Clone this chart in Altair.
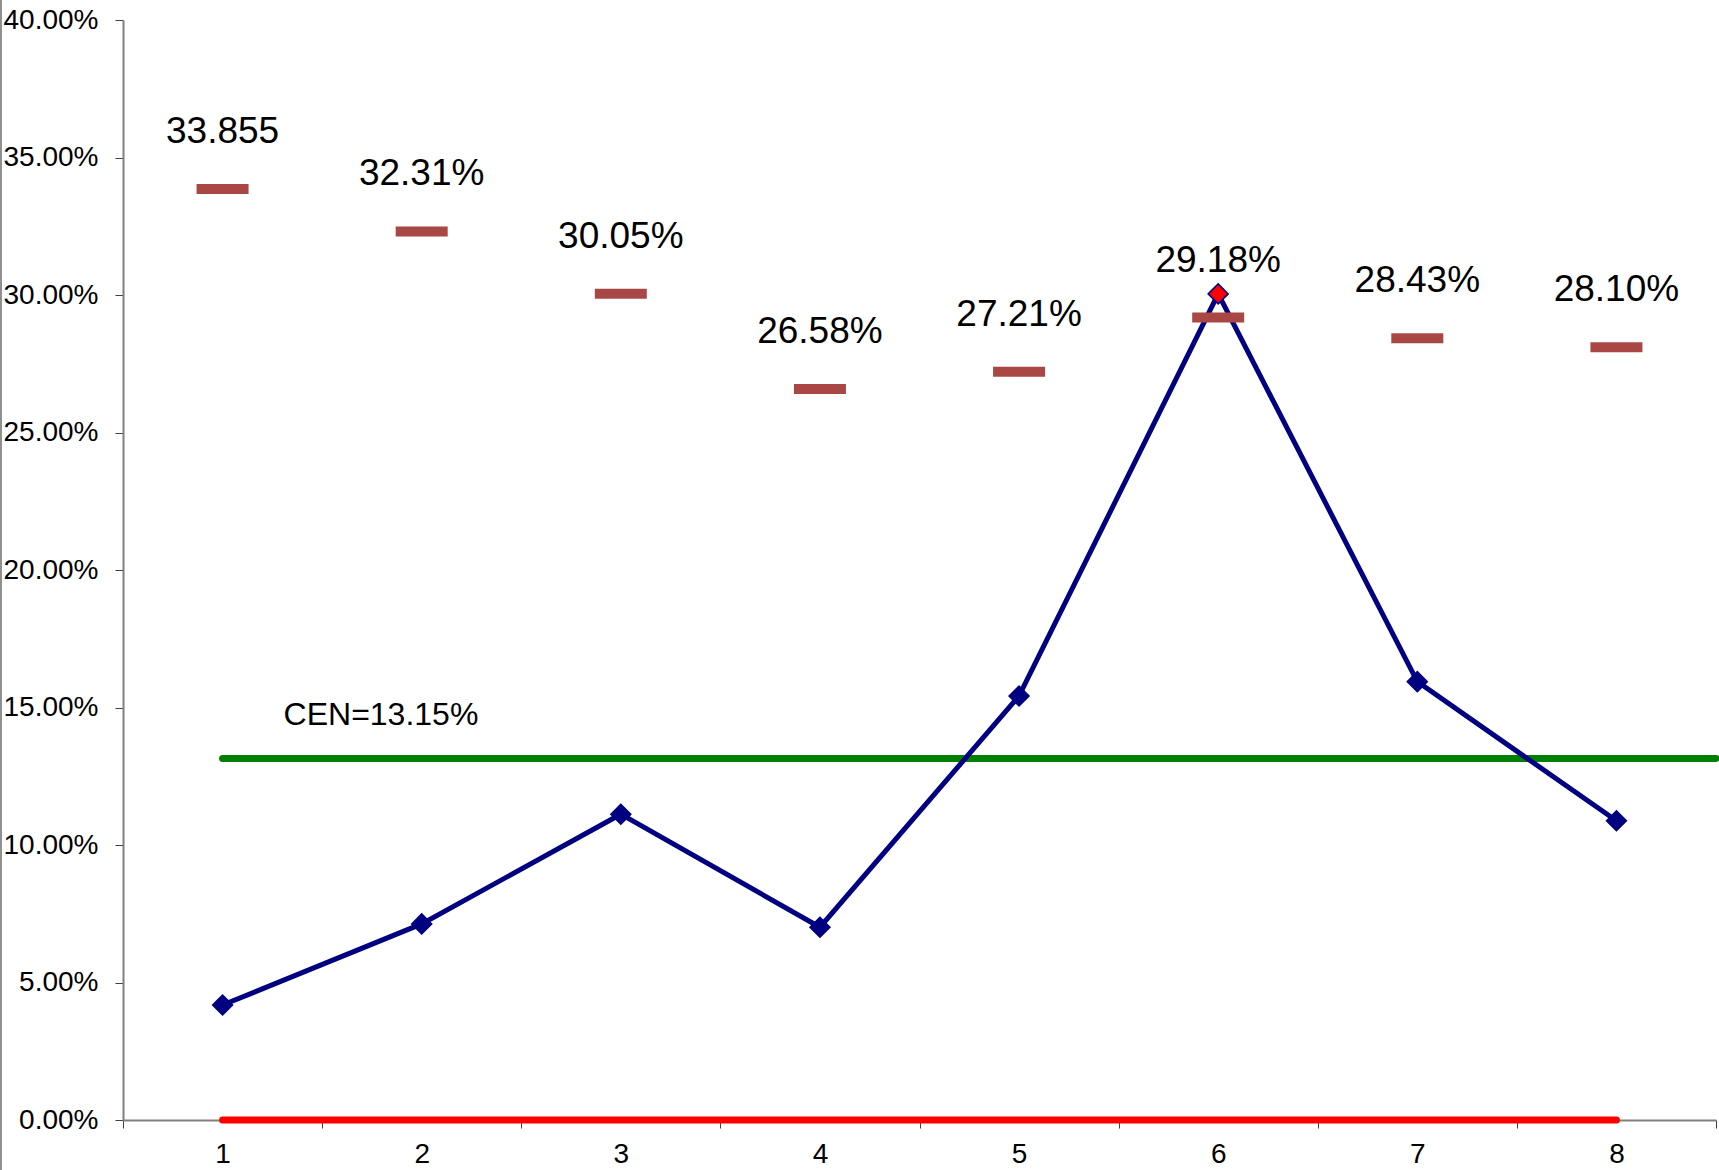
import altair as alt
import pandas as pd

# p-chart data: sample number, defect proportion, upper/lower control limits
samples = ["1", "2", "3", "4", "5", "6", "7", "8"]
p_values = [0.0418, 0.0713, 0.1112, 0.0701, 0.1542, 0.3004, 0.1594, 0.1088]
ucl_values = [0.33855, 0.3231, 0.3005, 0.2658, 0.2721, 0.2918, 0.2843, 0.2810]
ucl_labels = ["33.855", "32.31%", "30.05%", "26.58%", "27.21%", "29.18%", "28.43%", "28.10%"]
lcl_values = [0.0, 0.0, 0.0, 0.0, 0.0, 0.0, 0.0, 0.0]
center_value = 0.1315
center_label = "CEN=13.15%"
y_ticks = [0.0, 0.05, 0.10, 0.15, 0.20, 0.25, 0.30, 0.35, 0.40]

W, H = 1593, 1100
PAD_L, PAD_T, PAD_R, PAD_B = 123, 20, 3, 50
FONT = "Liberation Sans"

df = pd.DataFrame({
    "sample": samples,
    "p": p_values,
    "ucl": ucl_values,
    "ucl_label": ucl_labels,
    "lcl": lcl_values,
})
df["out"] = df["p"] > df["ucl"]

center_df = pd.DataFrame({"sample": [samples[0]], "cl": [center_value], "label": [center_label]})

x_enc = alt.X(
    "sample:O",
    bandPosition=0.5,
    scale=alt.Scale(type="band", domain=samples, paddingInner=0, paddingOuter=0),
    axis=alt.Axis(
        title=None, labelAngle=0, tickBand="extent", labelFontSize=28,
        labelFont=FONT, labelColor="black", labelPadding=12, tickSize=8,
        tickColor="#404040", domainColor="#808080", domainWidth=2,
    ),
)
y_scale = alt.Scale(domain=[0, 0.4], nice=False)
y_axis = alt.Axis(
    title=None, format=".2%", values=y_ticks, grid=False, labelFontSize=28,
    labelFont=FONT, labelColor="black", labelPadding=17, tickSize=8,
    tickColor="#404040", domainColor="#808080", domainWidth=2,
)

base = alt.Chart(df)

# outer frame edge on the left side of the chart
frame_edge = alt.Chart(center_df).mark_rule(color="#909090", strokeWidth=2).encode(
    x=alt.value(-PAD_L + 1), y=alt.value(-PAD_T), y2=alt.value(H + PAD_B)
)

lcl_line = base.mark_line(color="#FF0000", strokeWidth=7, strokeCap="round").encode(
    x=x_enc, y=alt.Y("lcl:Q", scale=y_scale, axis=y_axis)
)

center_rule = alt.Chart(center_df).mark_rule(
    color="#008000", strokeWidth=7, strokeCap="round"
).encode(x=x_enc, x2=alt.value(W), y=alt.Y("cl:Q", scale=y_scale))

center_text = alt.Chart(center_df).mark_text(
    align="left", baseline="middle", dx=61, dy=-43, fontSize=32, font=FONT, color="black"
).encode(x=x_enc, y=alt.Y("cl:Q", scale=y_scale), text="label:N")

p_line = base.mark_line(color="#000080", strokeWidth=5).encode(
    x=x_enc, y=alt.Y("p:Q", scale=y_scale)
)

ucl_ticks = base.mark_tick(color="#A94745", size=52, thickness=10, opacity=1).encode(
    x=x_enc, y=alt.Y("ucl:Q", scale=y_scale)
)

p_points = base.mark_point(
    shape="diamond", filled=True, size=400, stroke="#000080", strokeWidth=1.5, opacity=1
).encode(
    x=x_enc,
    y=alt.Y("p:Q", scale=y_scale),
    fill=alt.condition(alt.datum.out, alt.value("#FF0000"), alt.value("#000080")),
)

ucl_text = base.mark_text(
    baseline="middle", dy=-57, fontSize=37, font=FONT, color="black"
).encode(x=x_enc, y=alt.Y("ucl:Q", scale=y_scale), text="ucl_label:N")

chart = alt.layer(
    frame_edge, lcl_line, center_rule, p_line, ucl_ticks, p_points, ucl_text, center_text
).properties(
    width=W, height=H,
    padding={"left": PAD_L, "top": PAD_T, "right": PAD_R, "bottom": PAD_B},
    autosize=alt.AutoSizeParams(type="none"),
    background="white",
).configure_view(stroke=None)

chart.save("out.html", embed_options={"renderer": "svg", "actions": False})
